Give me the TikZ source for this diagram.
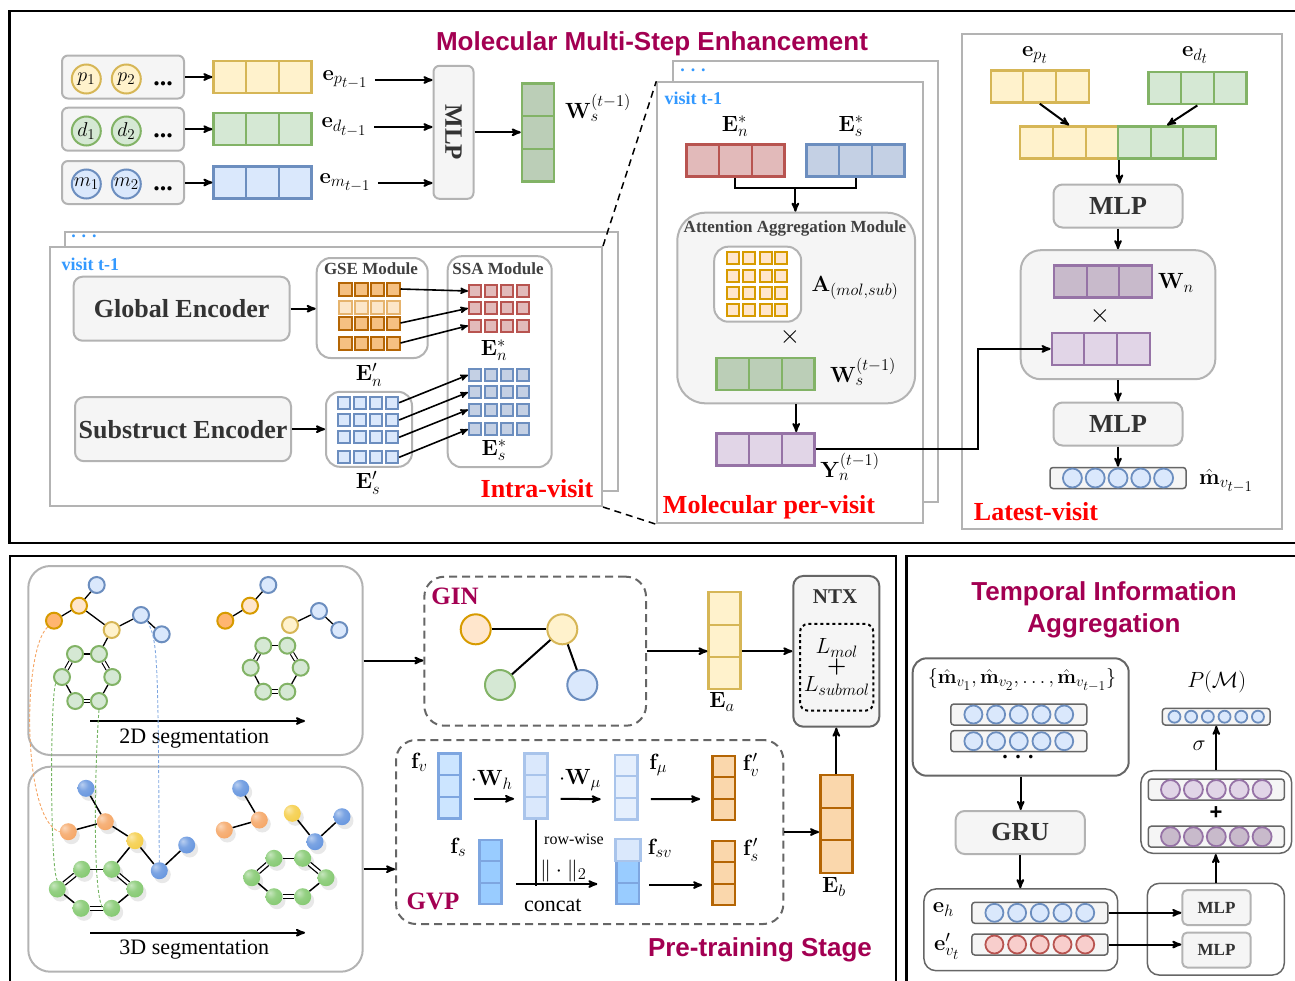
\documentclass[tikz,border=0pt]{standalone}
\usepackage{fix-cm}
\usepackage{amsmath}
\usepackage{graphicx}
\usepackage[no-math]{fontspec}
\setmainfont{Liberation Serif}
\newfontfamily\headfont{Liberation Sans}
\usetikzlibrary{arrows,calc,shadows}
\DeclareMathSizes{20}{20}{15}{13.5}
\DeclareMathSizes{22}{22}{16.5}{15}
\DeclareMathSizes{26}{26}{19}{16}
\definecolor{boxfill}{RGB}{245,245,245}
\definecolor{boxline}{RGB}{179,179,179}
\definecolor{darkline}{RGB}{102,102,102}
\definecolor{yelfill}{RGB}{255,242,204}
\definecolor{yelline}{RGB}{214,182,86}
\definecolor{grnfill}{RGB}{213,232,212}
\definecolor{grnline}{RGB}{130,179,102}
\definecolor{grndark}{RGB}{187,206,183}
\definecolor{blufill}{RGB}{218,232,252}
\definecolor{bluline}{RGB}{108,142,191}
\definecolor{bludark}{RGB}{196,208,228}
\definecolor{redfill}{RGB}{226,186,186}
\definecolor{redline}{RGB}{184,84,80}
\definecolor{pinkfill}{RGB}{248,206,204}
\definecolor{purfill}{RGB}{225,213,231}
\definecolor{purdark}{RGB}{200,186,203}
\definecolor{purline}{RGB}{150,115,166}
\definecolor{orafill}{RGB}{250,215,172}
\definecolor{oramid}{RGB}{245,192,130}
\definecolor{oraline}{RGB}{180,101,4}
\definecolor{orafade}{RGB}{252,230,200}
\definecolor{orafadeline}{RGB}{230,180,110}
\definecolor{oranode}{RGB}{255,181,112}
\definecolor{goldfill}{RGB}{255,230,204}
\definecolor{goldline}{RGB}{215,155,0}
\definecolor{sky}{RGB}{204,229,255}
\definecolor{skyline}{RGB}{126,166,224}
\definecolor{skypale}{RGB}{218,232,252}
\definecolor{skypaleline}{RGB}{169,196,235}
\definecolor{skydeep}{RGB}{153,204,255}
\definecolor{ballblue}{RGB}{100,148,222}
\definecolor{ballorange}{RGB}{245,165,100}
\definecolor{ballyellow}{RGB}{245,205,70}
\definecolor{ballgreen}{RGB}{130,200,110}
\definecolor{maroon}{RGB}{163,0,82}
\definecolor{visitblue}{RGB}{51,153,255}
\pgfdeclareradialshading{softblue}{\pgfpoint{-12bp}{12bp}}{color(0bp)=(ballblue!45!white); color(16bp)=(ballblue!85!white); color(36bp)=(ballblue); color(72bp)=(ballblue!80!black)}
\pgfdeclareradialshading{softorange}{\pgfpoint{-12bp}{12bp}}{color(0bp)=(ballorange!45!white); color(16bp)=(ballorange!85!white); color(36bp)=(ballorange); color(72bp)=(ballorange!80!black)}
\pgfdeclareradialshading{softyellow}{\pgfpoint{-12bp}{12bp}}{color(0bp)=(ballyellow!45!white); color(16bp)=(ballyellow!85!white); color(36bp)=(ballyellow); color(72bp)=(ballyellow!80!black)}
\pgfdeclareradialshading{softgreen}{\pgfpoint{-12bp}{12bp}}{color(0bp)=(ballgreen!45!white); color(16bp)=(ballgreen!85!white); color(36bp)=(ballgreen); color(72bp)=(ballgreen!80!black)}

\tikzset{
  panel/.style={draw=black, line width=2.5pt},
  sheet/.style={draw=boxline, fill=white, line width=2pt, inner sep=0pt},
  graybox/.style={draw=boxline, fill=boxfill, rounded corners=9pt, line width=2pt, inner sep=0pt,
    text=black!80, font=\bfseries\fontsize{26}{30}\selectfont},
  roundbox/.style={draw=boxline, fill=white, rounded corners=14pt, line width=2pt, inner sep=0pt},
  darkbox/.style={draw=darkline, rounded corners=14pt, line width=2pt, inner sep=0pt},
  dashbox/.style={draw=darkline, dash pattern=on 8pt off 5pt, rounded corners=20pt, line width=2pt, inner sep=0pt},
  link/.style={-stealth', line width=2pt},
  wire/.style={line width=2pt},
  zoomline/.style={line width=1.5pt, dash pattern=on 7pt off 5pt},
  hcells/.style={path picture={\foreach \f in {0.3333,0.6667}
      \draw[#1, line width=2pt] ($(path picture bounding box.north west)!\f!(path picture bounding box.north east)$)
        -- ($(path picture bounding box.south west)!\f!(path picture bounding box.south east)$);}},
  vcells/.style={path picture={\foreach \f in {0.3333,0.6667}
      \draw[#1, line width=2pt] ($(path picture bounding box.north west)!\f!(path picture bounding box.south west)$)
        -- ($(path picture bounding box.north east)!\f!(path picture bounding box.south east)$);}},
  hvec/.style 2 args={draw=#1, fill=#2, line width=2.5pt, minimum width=98pt, minimum height=32pt, inner sep=0pt, hcells=#1},
  vvec/.style 2 args={draw=#1, fill=#2, line width=2.5pt, minimum width=32pt, minimum height=97pt, inner sep=0pt, vcells=#1},
  sq/.style 2 args={draw=#1, fill=#2, line width=2pt, minimum size=12pt, inner sep=0pt},
  tok/.style 2 args={circle, draw=#1, fill=#2, line width=2pt, minimum size=29pt, inner sep=0pt, font=\fontsize{20}{22}\selectfont},
  cellbar/.style={draw=darkline, fill=boxfill, rounded corners=3pt, line width=1.5pt, minimum width=136pt, minimum height=21pt, inner sep=0pt},
  bead/.style 2 args={draw=#1, fill=#2, line width=1.8pt},
  atom/.style 2 args={circle, draw=#1, fill=#2, line width=2pt, minimum size=16pt, inner sep=0pt},
  sphere3d/.style={circle, shading=soft#1, minimum size=17pt, inner sep=0pt,
    drop shadow={opacity=0.18, shadow xshift=3pt, shadow yshift=-4pt}},
  bond/.style={line width=1.3pt},
  dbond/.style={double, double distance=2.5pt, line width=1.1pt},
  trace/.style={line width=0.9pt, dash pattern=on 3pt off 2pt},
  mlab/.style={font=\fontsize{22}{26}\selectfont},
  plain/.style={font=\fontsize{22}{26}\selectfont},
  headline/.style={font=\headfont\bfseries\fontsize{26}{32}\selectfont, text=maroon},
  stage/.style={font=\bfseries\fontsize{26}{30}\selectfont, text=red},
  visit/.style={font=\bfseries\fontsize{18}{20}\selectfont, text=visitblue},
  modlab/.style={font=\bfseries\fontsize{17}{20}\selectfont, text=black!75},
  netlab/.style={font=\bfseries\fontsize{25}{28}\selectfont, text=maroon},
}

\begin{document}
\begin{tikzpicture}[x=1pt,y=-1pt]
\useasboundingbox (0,0) rectangle (1295,980);
% outer panels
\draw[panel] (9.5,11) rectangle (1305,543);
\draw[panel] (10,556) rectangle (896,990);
\draw[panel] (906.5,556) rectangle (1305,990);

% ---------------- top panel ----------------
\node[headline] (ttl) at (652,44) {Molecular Multi-Step Enhancement};

\node[graybox, minimum width=122pt, minimum height=43pt, rounded corners=6pt] (rowp) at (123,77) {};
\node[graybox, minimum width=122pt, minimum height=43pt, rounded corners=6pt] (rowd) at (123,129.2) {};
\node[graybox, minimum width=122pt, minimum height=43pt, rounded corners=6pt] (rowm) at (123,182.5) {};
\node[tok={yelline}{yelfill}] (p1) at (86.3,79) {$p_1$};
\node[tok={yelline}{yelfill}] (p2) at (126.3,79) {$p_2$};
\node[tok={grnline}{grnfill}] (d1) at (86.3,131) {$d_1$};
\node[tok={grnline}{grnfill}] (d2) at (126.3,131) {$d_2$};
\node[tok={bluline}{blufill}] (m1) at (86.3,184) {$m_1$};
\node[tok={bluline}{blufill}] (m2) at (126.3,184) {$m_2$};
\node[font=\bfseries\fontsize{26}{28}\selectfont] (pdots) at (163,84) {...};
\node[font=\bfseries\fontsize{26}{28}\selectfont] (ddots) at (163,136) {...};
\node[font=\bfseries\fontsize{26}{28}\selectfont] (mdots) at (163,189) {...};

\node[hvec={yelline}{yelfill}] (vp) at (262.6,77) {};
\node[hvec={grnline}{grnfill}] (vd) at (262.6,129.2) {};
\node[hvec={bluline}{blufill}] (vm) at (262.6,182.5) {};
\draw[link] (rowp.east) -- (vp.west);
\draw[link] (rowd.east) -- (vd.west);
\draw[link] (rowm.east) -- (vm.west);

\node[mlab] (lep) at (345,80) {$\mathbf{e}_{p_{t-1}}$};
\node[mlab] (led) at (344,127) {$\mathbf{e}_{d_{t-1}}$};
\node[mlab] (lem) at (345,183) {$\mathbf{e}_{m_{t-1}}$};
\node[graybox, minimum width=40pt, minimum height=133pt, rounded corners=6pt, font=\bfseries\fontsize{25}{28}\selectfont] (mlp0) at (453.5,132.3) {\rotatebox{-90}{MLP}};
\draw[link, shorten <=4pt] (lep.east) -- (lep.east -| mlp0.west);
\draw[link, shorten <=4pt] (led.east) -- (led.east -| mlp0.west);
\draw[link, shorten <=4pt] (lem.east) -- (lem.east -| mlp0.west);
\node[vvec={grnline}{grndark}, minimum height=98pt] (ws0) at (538,132.5) {};
\draw[link] (mlp0.east) -- (mlp0.east -| ws0.west);
\node[mlab] (lws0) at (598,108) {$\mathbf{W}_s^{(t-1)}$};

% intra-visit
\node[sheet, minimum width=553pt, minimum height=259pt] (intraback) at (341.5,361.5) {};
\node[sheet, minimum width=552.5pt, minimum height=259pt] (intra) at (325.75,376.5) {};
\node[visit] (dots1) at (84,236) {. . .};
\node[visit, anchor=west] (v1) at (58,264) {visit t-1};

\node[graybox, minimum width=216pt, minimum height=64pt] (ge) at (181.6,308.7) {Global Encoder};
\node[graybox, minimum width=216pt, minimum height=64pt] (se) at (183,429.2) {Substruct Encoder};

\node[roundbox, minimum width=111pt, minimum height=100pt] (gse) at (372.2,308) {};
\node[modlab] (gselab) at (371,269) {GSE Module};
\foreach \r/\y in {1/289,3/323,4/343}
  \foreach \c/\x in {1/345,2/361,3/377,4/393}
    \node[sq={oraline}{oramid}, minimum size=13pt] (gse-\r-\c) at (\x,\y) {};
\foreach \c/\x in {1/345,2/361,3/377,4/393}
  \node[sq={orafadeline}{orafade}, minimum size=13pt] (gse-2-\c) at (\x,307) {};
\node[mlab] (len) at (369,375) {$\mathbf{E}'_n$};

\node[roundbox, minimum width=104pt, minimum height=211pt] (ssa) at (499.7,361.7) {};
\node[modlab] (ssalab) at (498,269) {SSA Module};
\foreach \r/\y in {1/291,2/308.3,3/325.7}
  \foreach \c/\x in {1/475,2/491,3/507,4/523}
    \node[sq={redline}{redfill}] (ssr-\r-\c) at (\x,\y) {};
\node[mlab] (lens) at (494,350) {$\mathbf{E}^*_n$};
\foreach \r/\y in {1/375,2/392.3,3/409.7,4/429.3}
  \foreach \c/\x in {1/475,2/491,3/507,4/523}
    \node[sq={bluline}{bludark}] (ssb-\r-\c) at (\x,\y) {};
\node[mlab] (less) at (494,450) {$\mathbf{E}^*_s$};

\node[roundbox, minimum width=86pt, minimum height=75pt] (sub) at (369,429.3) {};
\foreach \r/\y in {1/402.7,2/420,3/437.3,4/457.3}
  \foreach \c/\x in {1/344.2,2/360.3,3/376.4,4/392.1}
    \node[sq={bluline}{blufill}] (sub-\r-\c) at (\x,\y) {};
\node[mlab] (les) at (368,483) {$\mathbf{E}'_s$};

\draw[link] (ge.east) -- (ge.east -| gse.west);
\draw[link] (se.east) -- (se.east -| sub.west);
\draw[link, line width=1.6pt] (gse-1-4.east) -- (ssr-1-1.west);
\draw[link, line width=1.6pt] (gse-3-4.east) -- (ssr-2-1.west);
\draw[link, line width=1.6pt] (gse-4-4.east) -- (ssr-3-1.west);
\foreach \r in {1,2,3,4}
  \draw[link, line width=1.6pt] (sub-\r-4.east) -- (ssb-\r-1.west);
\node[stage] (intralab) at (537,489) {Intra-visit};

% molecular per-visit
\node[sheet, minimum width=265pt, minimum height=441pt] (molback) at (805.8,281.7) {};
\node[sheet, minimum width=266pt, minimum height=441pt] (mol) at (790.3,302.8) {};
\node[visit] (dots2) at (693,70) {. . .};
\node[visit, anchor=west] (v2) at (661,98) {visit t-1};
\draw[zoomline] (intra.north east) -- (mol.north west);
\draw[zoomline] (intra.south east) -- (mol.south west);

\node[mlab] (men) at (735,126) {$\mathbf{E}^*_n$};
\node[hvec={redline}{redfill}] (mvn) at (735.3,160.7) {};
\node[mlab] (mes) at (851,126) {$\mathbf{E}^*_s$};
\node[hvec={bluline}{bludark}] (mvs) at (855.5,160.7) {};
\node[graybox, minimum width=237.7pt, minimum height=190.6pt, rounded corners=28pt] (aam) at (796.2,308) {};
\node[modlab] (aamlab) at (795,228) {Attention Aggregation Module};
\draw[wire] (mvn.south) -- ++(0,10) -| (mvs.south);
\coordinate (join) at ($(mvn.south)!0.5!(mvs.south)+(0,10)$);
\draw[link] (join) -- (join |- aam.north);
\node[roundbox, minimum width=87pt, minimum height=75pt] (attbox) at (757.7,284.2) {};
\foreach \r/\y in {1/258.3,2/275.7,3/292.7,4/309.7}
  \foreach \c/\x in {1/733.3,2/749,3/765.7,4/781.3}
    \node[sq={goldline}{goldfill}] (att-\r-\c) at (\x,\y) {};
\node[mlab] (lattn) at (855,288) {$\mathbf{A}_{(mol,sub)}$};
\node[font=\fontsize{26}{28}\selectfont] (times1) at (790,337) {$\times$};
\node[hvec={grnline}{grndark}] (mws) at (765.7,374.2) {};
\node[mlab] (lmws) at (863,372) {$\mathbf{W}_s^{(t-1)}$};
\node[hvec={purline}{purfill}] (yn) at (765.7,449.3) {};
\node[mlab] (lyn) at (850,467) {$\mathbf{Y}_n^{(t-1)}$};
\draw[link] (aam.south) -- (aam.south |- yn.north);
\node[stage] (mollab) at (769,507) {Molecular per-visit};

% latest-visit
\node[sheet, minimum width=319.4pt, minimum height=495pt] (latest) at (1122,281.5) {};
\node[mlab] (lept) at (1035,55) {$\mathbf{e}_{p_t}$};
\node[hvec={yelline}{yelfill}] (vpt) at (1039.8,86.5) {};
\node[mlab] (ledt) at (1195,55) {$\mathbf{e}_{d_t}$};
\node[hvec={grnline}{grnfill}] (vdt) at (1197.3,88.2) {};
\node[hvec={yelline}{yelfill}] (cy) at (1069.2,142.5) {};
\node[hvec={grnline}{grnfill}] (cg) at (1167.1,142.5) {};
\draw[link] (vpt.south) -- (cy.north);
\draw[link] (vdt.south) -- (cg.north);
\node[graybox, minimum width=129pt, minimum height=43pt] (lm1) at (1118,206) {MLP};
\draw[link] (cy.south east) -- (cy.south east |- lm1.north);
\node[graybox, minimum width=194.6pt, minimum height=129pt, rounded corners=20pt] (mulbox) at (1118,314.7) {};
\node[hvec={purline}{purdark}] (wn) at (1103,281.3) {};
\node[mlab] (lwn) at (1176,283) {$\mathbf{W}_n$};
\node[font=\fontsize{26}{28}\selectfont] (times2) at (1100,316) {$\times$};
\node[hvec={purline}{purfill}] (lp) at (1100.8,348.9) {};
\draw[link] (lm1.south) -- (mulbox.north);
\node[graybox, minimum width=129pt, minimum height=43pt] (lm2) at (1118,424) {MLP};
\draw[link] (mulbox.south) -- (lm2.north);
\node[cellbar] (mvbar) at (1118,478) {};
\foreach \i in {-2,...,2}
  \draw[bead={bluline}{blufill}] ($(mvbar.center)+(\i*22.8,0)$) circle (9.5);
\draw[link] (lm2.south) -- (mvbar.north);
\node[mlab] (lmv) at (1226,481) {$\hat{\mathbf{m}}_{v_{t-1}}$};
\node[stage] (latlab) at (1036,512) {Latest-visit};
\draw[link] (yn.east) -- ++(162,0) |- (lp.west);

% ---------------- pre-training panel ----------------
\node[draw=boxline, line width=2pt, rounded corners=22pt, minimum width=334.4pt, minimum height=189pt] (seg2d) at (195.5,660.5) {};
\node[draw=boxline, line width=2pt, rounded corners=22pt, minimum width=334.4pt, minimum height=205pt] (seg3d) at (195.5,869.2) {};

% 2D molecule
\foreach \n/\x/\y in {a1/96.7/585, a5/141/615, a6/161.7/634.3, b1/268.3/585, b5/319/611, b6/339.3/630}
  \node[atom={bluline}{blufill}] (\n) at (\x,\y) {};
\foreach \n/\x/\y in {a2/79/605.7, b2/250/605.7}
  \node[atom={goldline}{goldfill}] (\n) at (\x,\y) {};
\foreach \n/\x/\y in {a3/54/620.7, b3/225.3/620.7}
  \node[atom={goldline}{oranode}] (\n) at (\x,\y) {};
\foreach \n/\x/\y in {a4/111.7/630, b4/290/625}
  \node[atom={yelline}{yelfill}] (\n) at (\x,\y) {};
\foreach \n/\x/\y in {a7/75/654, a8/99/654, a9/62/677, a10/112.3/677, a11/75.3/701, a12/99/701,
                      b7/263.3/645.7, b8/287.3/645.7, b9/250.7/667.7, b10/300.7/667.7, b11/263.3/691.7, b12/287.3/691.7}
  \node[atom={grnline}{grnfill}] (\n) at (\x,\y) {};
\foreach \u/\v in {a1/a2, a2/a3, a2/a4, a4/a5, a5/a6, a4/a8, a7/a8, a9/a11, a10/a12,
                   b1/b2, b2/b3, b4/b5, b5/b6, b7/b8, b9/b11, b10/b12}
  \draw[bond] (\u) -- (\v);
\foreach \u/\v in {a7/a9, a8/a10, a11/a12, b7/b9, b8/b10, b11/b12}
  \draw[dbond] (\u) -- (\v);
\coordinate (s2a) at (90,721);
\coordinate (s2b) at (305,721);
\draw[link] (s2a) -- (s2b);
\node[plain] (s2lab) at (194.3,738.3) {2D segmentation};

% 3D molecule
\foreach \n/\x/\y in {c1/86/788.3, c5/186.7/845, c6/159.3/870.7, d1/240.7/788.3, d5/315/841.7, d6/342/816.7}
  \node[sphere3d=blue] (\n) at (\x,\y) {};
\foreach \n/\x/\y in {c2/105.3/821.7, c3/68.3/831.7, d2/259.3/820, d3/224.3/830}
  \node[sphere3d=orange] (\n) at (\x,\y) {};
\foreach \n/\x/\y in {c4/135/840.7, d4/292.3/813.3}
  \node[sphere3d=yellow] (\n) at (\x,\y) {};
\foreach \n/\x/\y in {c7/81.7/869.3, c8/111.7/869.3, c9/57.3/889, c10/135/889, c11/81/908.3, c12/111.7/908.3,
                      d7/274/858.3, d8/302.7/858.3, d9/251.7/877.7, d10/326/877.7, d11/274/896.7, d12/302.7/896.7}
  \node[sphere3d=green] (\n) at (\x,\y) {};
\foreach \u/\v in {c1/c2, c3/c2, c2/c4, c4/c6, c6/c5, c4/c8, c7/c8, c9/c11, c10/c12,
                   d1/d2, d3/d2, d4/d5, d5/d6, d7/d8, d9/d11, d10/d12}
  \draw[bond, line width=1.5pt] (\u) -- (\v);
\foreach \u/\v in {c7/c9, c8/c10, c11/c12, d7/d9, d8/d10, d11/d12}
  \draw[dbond, line width=1.3pt] (\u) -- (\v);
\coordinate (s3a) at (90,932.7);
\coordinate (s3b) at (305,932.7);
\draw[link] (s3a) -- (s3b);
\node[plain] (s3lab) at (194.3,950) {3D segmentation};

% 2D to 3D correspondences
\draw[trace, ballorange] (a3.south west) .. controls (22,650) and (22,820) .. (c3.west);
\draw[trace, ballgreen!90!black] (a9.south west) .. controls (50,700) and (50,870) .. (c9.north);
\draw[trace, ballgreen!90!black] (a12.south) .. controls (95,760) and (92,895) .. (c12.west);
\draw[trace, skyline] (a5.south east) .. controls (158,640) and (158,660) .. (c6.north);

% GIN
\node[dashbox, minimum width=221.7pt, minimum height=149pt] (gin) at (535.2,651.2) {};
\node[netlab] (ginlab) at (455,596) {GIN};
\node[atom={goldline}{goldfill}, minimum size=30pt] (go) at (475.7,629.3) {};
\node[atom={yelline}{yelfill}, minimum size=30pt] (gy) at (562.3,629.3) {};
\node[atom={grnline}{grnfill}, minimum size=30pt] (gg) at (500,685) {};
\node[atom={bluline}{blufill}, minimum size=30pt] (gb) at (582.3,685) {};
\draw[wire] (go) -- (gy);
\draw[wire] (gy) -- (gg);
\draw[wire] (gy) -- (gb);
\draw[link] (seg2d.east) -- (seg2d.east -| gin.west);

\node[vvec={yelline}{yelfill}] (ea) at (724.7,640.7) {};
\node[mlab] (lea) at (722,702) {$\mathbf{E}_a$};
\draw[link] (gin.east) -- (gin.east -| ea.west);
\node[draw=darkline, fill=boxfill, rounded corners=10pt, line width=2pt, minimum width=86pt, minimum height=150.7pt] (ntx) at (836.3,651.3) {};
\node[font=\bfseries\fontsize{21}{24}\selectfont, text=black!80] (ntxlab) at (835,597) {NTX};
\node[draw=black, dashed, rounded corners=8pt, line width=2pt, minimum width=73.3pt, minimum height=86.7pt, align=center, inner sep=0pt, font=\fontsize{22}{22}\selectfont] (loss) at (836.7,667.3) {$L_{mol}$\\[-3pt]$\boldsymbol{+}$\\[-3pt]$L_{submol}$};
\draw[link] (gin.east -| ea.east) -- (gin.east -| ntx.west);

% GVP
\node[dashbox, minimum width=387.3pt, minimum height=184pt] (gvp) at (589.7,832) {};
\node[netlab] (gvplab) at (433,901) {GVP};
\draw[link] (seg3d.east) -- (seg3d.east -| gvp.west);
\node[vvec={skyline}{sky}, minimum width=22pt, minimum height=65pt] (fv) at (449.7,785.8) {};
\node[vvec={skypaleline}{skypale}, minimum width=23pt, minimum height=65pt] (vh) at (535.8,785.8) {};
\node[vvec={skypaleline}{skypale!70!white}, minimum width=22.7pt, minimum height=64.3pt] (fmu) at (626.3,787.2) {};
\node[vvec={oraline}{orafill}, minimum width=22.7pt, minimum height=64pt] (fvp) at (723.7,788) {};
\node[vvec={skyline}{skydeep}, minimum width=22.4pt, minimum height=64pt] (fs) at (490.5,872) {};
\node[vvec={skyline}{skydeep}, minimum width=22.4pt, minimum height=64pt] (fsv) at (627.8,872) {};
\filldraw[fill=skypale, draw=skypaleline, line width=2.5pt] (fsv.north west) rectangle ($(fsv.north east)!0.3333!(fsv.south east)$);
\node[vvec={oraline}{orafill}, minimum width=22.7pt, minimum height=64pt] (fsp) at (723.7,873) {};
\node[mlab] (lfv) at (419.3,762) {$\mathbf{f}_v$};
\node[mlab] (lwh) at (491.7,780) {$\cdot\mathbf{W}_h$};
\node[mlab] (lwmu) at (580,780) {$\cdot\mathbf{W}_\mu$};
\node[mlab] (lfmu) at (658.3,765) {$\mathbf{f}_\mu$};
\node[mlab] (lfvp) at (751,765) {$\mathbf{f}'_v$};
\node[mlab] (lfs) at (458.3,847) {$\mathbf{f}_s$};
\node[mlab] (lfsv) at (660,848.3) {$\mathbf{f}_{sv}$};
\node[mlab] (lfsp) at (751,850) {$\mathbf{f}'_s$};
\node[font=\fontsize{16}{18}\selectfont] (rowwise) at (574,839.3) {row-wise};
\node[mlab] (lnorm) at (563.3,871) {$\|\cdot\|_2$};
\node[plain] (lconcat) at (552.7,905) {concat};
\draw[link] ($(fv.east)+(12,13)$) -- ($(vh.west)+(-9,13)$);
\draw[link] ($(vh.east)+(12,13)$) -- ($(fmu.west)+(-13,12)$);
\draw[link] ($(fmu.east)+(12,12)$) -- ($(fvp.west)+(-11,11)$);
\draw[wire] (vh.south) -- ++(0,66);
\draw[link] ($(fs.east)+(13,12)$) -- ($(fsv.west)+(-18,12)$);
\draw[link] ($(fsv.east)+(9,13)$) -- ($(fsp.west)+(-9,12)$);

\node[vvec={oraline}{orafill}, minimum height=98pt] (eb) at (836.3,823.9) {};
\node[mlab] (leb) at (834,887) {$\mathbf{E}_b$};
\draw[link] (gvp.east) -- (gvp.east -| eb.west);
\draw[link] (eb.north) -- (ntx.south);
\node[headline] (pretrain) at (760,950) {Pre-training Stage};

% ---------------- temporal panel ----------------
\node[headline, align=center] (tia) at (1104,610) {Temporal Information\\Aggregation};
\node[darkbox, minimum width=216pt, minimum height=117.4pt] (hist) at (1020.7,717) {};
\node[font=\fontsize{20}{24}\selectfont] (lset) at (1022,680) {$\{\hat{\mathbf{m}}_{v_1},\hat{\mathbf{m}}_{v_2},\dots,\hat{\mathbf{m}}_{v_{t-1}}\}$};
\node[cellbar] (hb1) at (1018.8,714.5) {};
\node[cellbar] (hb2) at (1018.8,741.2) {};
\foreach \i in {-2,...,2} {
  \draw[bead={bluline}{blufill}] ($(hb1.center)+(\i*22.7,0)$) circle (9);
  \draw[bead={bluline}{blufill}] ($(hb2.center)+(\i*22.7,0)$) circle (9);
}
\node[plain] (hdots) at (1018,757) {\textbf{. . .}};
\node[graybox, minimum width=129.3pt, minimum height=43pt] (gru) at (1020.3,832.5) {GRU};
\draw[link] (hist.south) -- (hist.south |- gru.north);
\node[darkbox, line width=1.5pt, rounded corners=12pt, minimum width=193.7pt, minimum height=81.7pt] (hbox) at (1020.8,929.8) {};
\draw[link] (gru.south) -- (gru.south |- hbox.north);
\node[cellbar] (ehbar) at (1039.8,912.8) {};
\node[cellbar] (evbar) at (1039.8,944.5) {};
\foreach \i in {-2,...,2} {
  \draw[bead={bluline}{blufill}] ($(ehbar.center)+(\i*22.7,0)$) circle (9);
  \draw[bead={redline}{pinkfill}] ($(evbar.center)+(\i*22.7,0)$) circle (9);
}
\node[mlab] (leh) at (943.3,910) {$\mathbf{e}_h$};
\node[mlab] (lev) at (946.7,946) {$\mathbf{e}'_{v_t}$};
\node[darkbox, line width=1.5pt, rounded corners=12pt, minimum width=137pt, minimum height=91.7pt] (mbox) at (1215.8,929.2) {};
\node[graybox, minimum width=68.4pt, minimum height=35pt, rounded corners=5pt, font=\bfseries\fontsize{17}{20}\selectfont] (mlpa) at (1216.5,907.5) {MLP};
\node[graybox, minimum width=68.4pt, minimum height=35pt, rounded corners=5pt, font=\bfseries\fontsize{17}{20}\selectfont] (mlpb) at (1216.5,950) {MLP};
\draw[link] (ehbar.east) -- (ehbar.east -| mlpa.west);
\draw[link] (evbar.east) -- (evbar.east -| mlpb.west);
\node[darkbox, line width=1.5pt, rounded corners=12pt, minimum width=150.7pt, minimum height=82.6pt] (sumbox) at (1216.3,812) {};
\draw[link] (mbox.north) -- (mbox.north |- sumbox.south);
\node[cellbar] (pb1) at (1216.3,789.5) {};
\node[cellbar] (pb2) at (1216.3,836.7) {};
\foreach \i in {-2,...,2} {
  \draw[bead={purline}{purfill}] ($(pb1.center)+(\i*22.9,0)$) circle (9.5);
  \draw[bead={purline}{purdark}] ($(pb2.center)+(\i*22.9,0)$) circle (9.5);
}
\node[font=\headfont\bfseries\fontsize{22}{24}\selectfont] (plus) at (1216,813) {+};
\node[cellbar, minimum width=107.7pt, minimum height=16.7pt] (pbar) at (1216.2,716.7) {};
\foreach \i in {-2.5,-1.5,...,2.5}
  \draw[bead={bluline}{blufill}] ($(pbar.center)+(\i*16.7,0)$) circle (6);
\draw[link] (sumbox.north) -- (sumbox.north |- pbar.south);
\node[mlab] (lsig) at (1199,746) {$\sigma$};
\node[mlab] (lpm) at (1216.7,682) {$P(\mathcal{M})$};
\end{tikzpicture}
\end{document}
